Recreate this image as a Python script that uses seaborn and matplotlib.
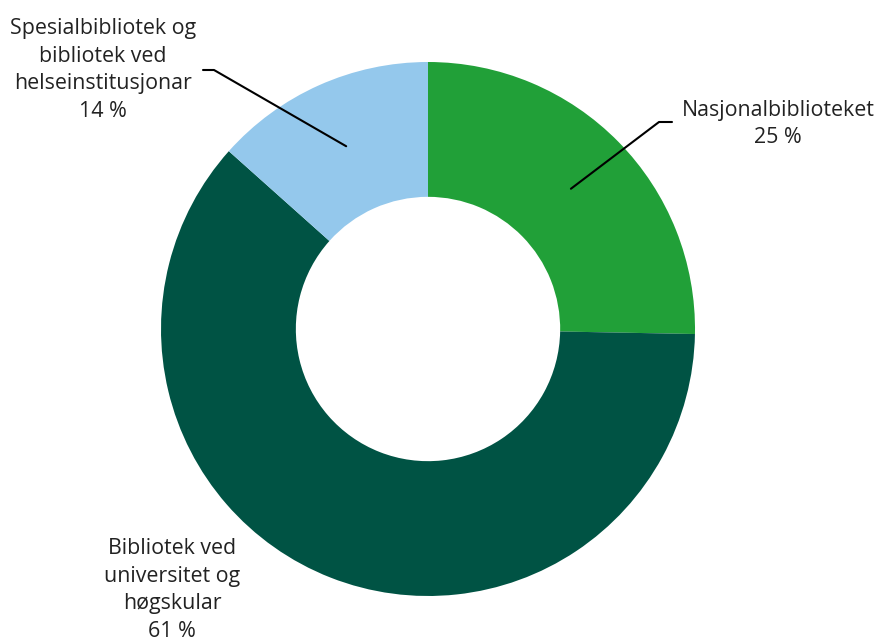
import numpy as np
import matplotlib.pyplot as plt
import seaborn as sns

sns.set_style("white")
plt.rcParams['font.family'] = ['Open Sans', 'DejaVu Sans']

# Data
labels = ["Nasjonalbiblioteket", "Bibliotek ved\nuniversitet og\nhøgskular",
          "Spesialbibliotek og\nbibliotek ved\nhelseinstitusjonar"]
shares = [25.3, 61.3, 13.4]          # wedge sizes as drawn
share_text = ["25 %", "61 %", "14 %"]  # printed labels
colors = ["#21a038", "#005344", "#94c8ec"]

W, H = 877, 642
cx, cy, R = 428, 329, 267  # pie centre and radius in pixels

fig = plt.figure(figsize=(W / 100, H / 100), dpi=100)
ax = fig.add_axes([(cx - R) / W, (H - cy - R) / H, 2 * R / W, 2 * R / H])
wedges, _ = ax.pie(shares, colors=colors, startangle=90, counterclock=False,
                   radius=1, wedgeprops=dict(width=0.505, linewidth=0))
ax.set_xlim(-1, 1)
ax.set_ylim(-1, 1)
ax.axis("off")


def px(x, y):
    return (x - cx) / R, (cy - y) / R


txt = dict(fontsize=15.4, color="#222222", ha="center", va="center", linespacing=1.42)

# label texts
pos = [px(778, 124), px(172, 590), px(103, 70)]
for lab, val, p in zip(labels, share_text, pos):
    ax.text(p[0], p[1], f"{lab}\n{val}", **txt)

# leader lines for the two small wedges
elbows = {0: (px(659, 122), px(672, 122)), 2: (px(214, 70), px(203, 70))}
for i, (elb, end) in elbows.items():
    w = wedges[i]
    ang = np.deg2rad((w.theta1 + w.theta2) / 2)
    start = (0.75 * np.cos(ang), 0.75 * np.sin(ang))
    ax.plot([start[0], elb[0], end[0]], [start[1], elb[1], end[1]],
            color="black", lw=1.5, clip_on=False)

fig.savefig("out.png", dpi=100)
